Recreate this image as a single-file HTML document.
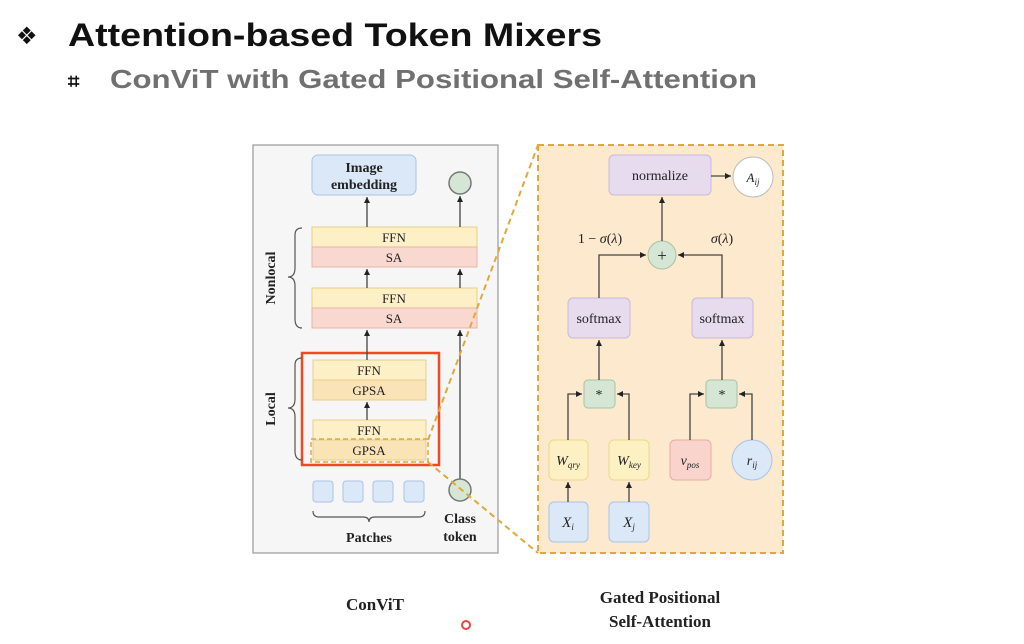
<!DOCTYPE html>
<html><head><meta charset="utf-8"><style>
html,body{margin:0;padding:0;background:#fff;}
svg{display:block;}
</style></head><body>
<svg width="1024" height="644" viewBox="0 0 1024 644" xmlns="http://www.w3.org/2000/svg">
<defs>
<marker id="ar" markerWidth="8" markerHeight="8" refX="6" refY="3" orient="auto" markerUnits="userSpaceOnUse">
<path d="M0,0 L6,3 L0,6 z" fill="#222"/></marker>
</defs>
<rect width="1024" height="644" fill="#fff"/>
<!-- title -->
<text x="16" y="44" font-family="DejaVu Sans, sans-serif" font-size="24" fill="#111">❖</text>
<text x="68" y="46" font-family="Liberation Sans, sans-serif" font-weight="bold" font-size="32" fill="#111" textLength="534" lengthAdjust="spacingAndGlyphs">Attention-based Token Mixers</text>
<text x="68" y="88" font-family="DejaVu Sans, sans-serif" font-weight="bold" font-size="20" fill="#111">⌗</text>
<text x="110" y="88" font-family="Liberation Sans, sans-serif" font-weight="bold" font-size="26" fill="#707070" textLength="647" lengthAdjust="spacingAndGlyphs">ConViT with Gated Positional Self-Attention</text>

<g font-family="Liberation Serif, serif" fill="#222">
<!-- left panel -->
<rect x="253" y="145" width="245" height="408" fill="#f6f6f6" stroke="#999" stroke-width="1.2"/>
<rect x="312" y="155" width="104" height="40" rx="6" fill="#dbe8f8" stroke="#a9c3e6"/>
<text x="364" y="172" text-anchor="middle" font-size="14" font-weight="bold">Image</text>
<text x="364" y="189" text-anchor="middle" font-size="14" font-weight="bold">embedding</text>
<circle cx="460" cy="183" r="11" fill="#d6e6d4" stroke="#777" stroke-width="1.5"/>
<!-- nonlocal blocks -->
<rect x="312" y="227" width="165" height="20" fill="#fdefc6" stroke="#e6cf8a"/>
<rect x="312" y="247" width="165" height="20" fill="#f9d9cf" stroke="#e6b5a5"/>
<text x="394" y="242" text-anchor="middle" font-size="13">FFN</text>
<text x="394" y="262" text-anchor="middle" font-size="13">SA</text>
<rect x="312" y="288" width="165" height="20" fill="#fdefc6" stroke="#e6cf8a"/>
<rect x="312" y="308" width="165" height="20" fill="#f9d9cf" stroke="#e6b5a5"/>
<text x="394" y="303" text-anchor="middle" font-size="13">FFN</text>
<text x="394" y="323" text-anchor="middle" font-size="13">SA</text>
<!-- local blocks -->
<rect x="313" y="360" width="113" height="20" fill="#fdefc6" stroke="#e6cf8a"/>
<rect x="313" y="380" width="113" height="20" fill="#fbe3b8" stroke="#e6cf8a"/>
<text x="369" y="375" text-anchor="middle" font-size="13">FFN</text>
<text x="369" y="395" text-anchor="middle" font-size="13">GPSA</text>
<rect x="313" y="420" width="113" height="20" fill="#fdefc6" stroke="#e6cf8a"/>
<rect x="313" y="440" width="113" height="20" fill="#fbe3b8" stroke="#e6cf8a"/>
<text x="369" y="435" text-anchor="middle" font-size="13">FFN</text>
<text x="369" y="455" text-anchor="middle" font-size="13">GPSA</text>
<rect x="311" y="439" width="117" height="23" fill="none" stroke="#e0a93a" stroke-width="1.5" stroke-dasharray="5,3"/>
<rect x="302" y="353" width="137" height="112" fill="none" stroke="#f04a25" stroke-width="2.5"/>
<!-- arrows left -->
<g stroke="#444" stroke-width="1.3" fill="none" marker-end="url(#ar)">
<line x1="367" y1="227" x2="367" y2="197"/>
<line x1="460" y1="227" x2="460" y2="196"/>
<line x1="367" y1="288" x2="367" y2="269"/>
<line x1="460" y1="288" x2="460" y2="269"/>
<line x1="367" y1="360" x2="367" y2="330"/>
<line x1="460" y1="479" x2="460" y2="330"/>
<line x1="367" y1="420" x2="367" y2="402"/>
</g>
<circle cx="460" cy="490" r="11" fill="#d6e6d4" stroke="#777" stroke-width="1.5"/>
<!-- patches -->
<rect x="313" y="481" width="20" height="21" rx="3" fill="#dbe8f8" stroke="#a9c3e6"/>
<rect x="343" y="481" width="20" height="21" rx="3" fill="#dbe8f8" stroke="#a9c3e6"/>
<rect x="373" y="481" width="20" height="21" rx="3" fill="#dbe8f8" stroke="#a9c3e6"/>
<rect x="404" y="481" width="20" height="21" rx="3" fill="#dbe8f8" stroke="#a9c3e6"/>
<path d="M313,511 q0,6 6,6 h44 q6,0 6,5 q0,-5 6,-5 h44 q6,0 6,-6" fill="none" stroke="#555" stroke-width="1.2"/>
<text x="369" y="542" text-anchor="middle" font-size="14" font-weight="bold">Patches</text>
<text x="460" y="523" text-anchor="middle" font-size="14" font-weight="bold">Class</text>
<text x="460" y="541" text-anchor="middle" font-size="14" font-weight="bold">token</text>
<!-- braces -->
<path d="M302,228 q-7,0 -7,7 v33 q0,9 -7,9 q7,0 7,9 v33 q0,9 7,9" fill="none" stroke="#555" stroke-width="1.2"/>
<path d="M302,358 q-7,0 -7,7 v34 q0,9 -7,9 q7,0 7,9 v34 q0,9 7,9" fill="none" stroke="#555" stroke-width="1.2"/>
<text transform="translate(275,278) rotate(-90)" text-anchor="middle" font-size="14" font-weight="bold">Nonlocal</text>
<text transform="translate(275,409) rotate(-90)" text-anchor="middle" font-size="14" font-weight="bold">Local</text>

<!-- right panel -->
<rect x="538" y="145" width="245" height="408" fill="#fde9cd" stroke="#e0a93a" stroke-width="2" stroke-dasharray="6,4"/>
<line x1="428" y1="440" x2="538" y2="145" stroke="#e0a93a" stroke-width="2" stroke-dasharray="6,4"/>
<line x1="428" y1="462" x2="538" y2="553" stroke="#e0a93a" stroke-width="2" stroke-dasharray="6,4"/>

<rect x="609" y="155" width="102" height="40" rx="5" fill="#e6dcee" stroke="#c9b9da"/>
<text x="660" y="180" text-anchor="middle" font-size="14">normalize</text>
<circle cx="753" cy="177" r="20" fill="#fff" stroke="#bbb"/>
<text x="753" y="182" text-anchor="middle" font-size="13" font-style="italic">A<tspan font-size="9" dy="3">ij</tspan></text>
<circle cx="662" cy="255" r="14" fill="#d6e6d4" stroke="#a7c3a3"/>
<text x="662" y="261" text-anchor="middle" font-size="17">+</text>
<text x="600" y="243" text-anchor="middle" font-size="14">1 − <tspan font-style="italic">σ</tspan>(<tspan font-style="italic">λ</tspan>)</text>
<text x="722" y="243" text-anchor="middle" font-size="14"><tspan font-style="italic">σ</tspan>(<tspan font-style="italic">λ</tspan>)</text>
<rect x="568" y="298" width="62" height="40" rx="5" fill="#e6dcee" stroke="#c9b9da"/>
<text x="599" y="323" text-anchor="middle" font-size="14">softmax</text>
<rect x="692" y="298" width="61" height="40" rx="5" fill="#e6dcee" stroke="#c9b9da"/>
<text x="722" y="323" text-anchor="middle" font-size="14">softmax</text>
<rect x="584" y="380" width="31" height="28" rx="4" fill="#d6e6d4" stroke="#a7c3a3"/>
<text x="599" y="399" text-anchor="middle" font-size="14">*</text>
<rect x="706" y="380" width="31" height="28" rx="4" fill="#d6e6d4" stroke="#a7c3a3"/>
<text x="722" y="399" text-anchor="middle" font-size="14">*</text>
<rect x="549" y="440" width="39" height="40" rx="5" fill="#fdf0c2" stroke="#ecd78a"/>
<text x="568" y="465" text-anchor="middle" font-size="14" font-style="italic">W<tspan font-size="9" dy="3">qry</tspan></text>
<rect x="609" y="440" width="40" height="40" rx="5" fill="#fdf0c2" stroke="#ecd78a"/>
<text x="629" y="465" text-anchor="middle" font-size="14" font-style="italic">W<tspan font-size="9" dy="3">key</tspan></text>
<rect x="670" y="440" width="41" height="40" rx="5" fill="#f8d4cc" stroke="#e6ada0"/>
<text x="690" y="465" text-anchor="middle" font-size="14" font-style="italic">v<tspan font-size="9" dy="3">pos</tspan></text>
<circle cx="752" cy="460" r="20" fill="#dbe8f8" stroke="#a9c3e6"/>
<text x="752" y="465" text-anchor="middle" font-size="14" font-style="italic">r<tspan font-size="9" dy="3">ij</tspan></text>
<rect x="549" y="502" width="39" height="40" rx="5" fill="#dbe8f8" stroke="#a9c3e6"/>
<text x="568" y="527" text-anchor="middle" font-size="15" font-style="italic">X<tspan font-size="9" dy="3">i</tspan></text>
<rect x="609" y="502" width="40" height="40" rx="5" fill="#dbe8f8" stroke="#a9c3e6"/>
<text x="629" y="527" text-anchor="middle" font-size="15" font-style="italic">X<tspan font-size="9" dy="3">j</tspan></text>
<g stroke="#444" stroke-width="1.3" fill="none" marker-end="url(#ar)">
<line x1="711" y1="176" x2="731" y2="176"/>
<line x1="662" y1="241" x2="662" y2="197"/>
<polyline points="599,298 599,255 646,255"/>
<polyline points="722,298 722,255 678,255"/>
<line x1="599" y1="380" x2="599" y2="340"/>
<line x1="722" y1="380" x2="722" y2="340"/>
<polyline points="568,440 568,394 582,394"/>
<polyline points="629,440 629,394 617,394"/>
<polyline points="690,440 690,394 704,394"/>
<polyline points="752,440 752,394 739,394"/>
<line x1="568" y1="502" x2="568" y2="482"/>
<line x1="629" y1="502" x2="629" y2="482"/>
</g>

<!-- captions -->
<text x="375" y="610" text-anchor="middle" font-size="17" font-weight="bold">ConViT</text>
<text x="660" y="603" text-anchor="middle" font-size="17" font-weight="bold">Gated Positional</text>
<text x="660" y="627" text-anchor="middle" font-size="17" font-weight="bold">Self-Attention</text>
</g>
<circle cx="466" cy="625" r="4" fill="none" stroke="#e44" stroke-width="2"/>
</svg>
</body></html>
